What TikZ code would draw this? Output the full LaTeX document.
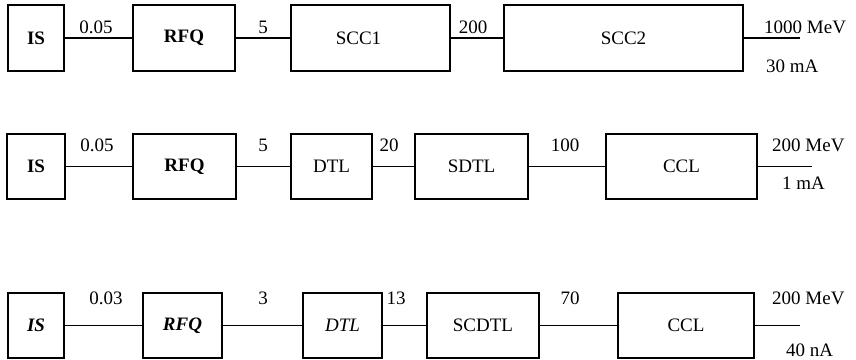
\documentclass[tikz,border=0pt]{standalone}
\usepackage{fontspec}
\setmainfont{Liberation Serif}
\begin{document}
\begin{tikzpicture}[x=1pt,y=-1pt,
  blk/.style={draw,line width=1.7pt,inner sep=0pt,font=\fontsize{19}{22}\selectfont},
  lbl/.style={inner sep=0pt,font=\fontsize{19}{22}\selectfont},
  conn/.style={line width=1.7pt}]
\useasboundingbox (0,0) rectangle (856,359);
% Row 1
\node[blk,minimum width=56,minimum height=66,font=\fontsize{19}{22}\selectfont\bfseries] (is1) at (36,38) {IS};
\node[blk,minimum width=102,minimum height=66,font=\fontsize{19}{22}\selectfont\bfseries] (rfq1) at (184,38) {RFQ};
\node[blk,minimum width=159,minimum height=66] (scc1) at (370.5,38) {\hspace*{-24pt}SCC1};
\node[blk,minimum width=239,minimum height=66] (scc2) at (623.5,38) {SCC2};
\coordinate (e1) at (800,38);
\draw[conn] (is1) -- (rfq1);
\draw[conn] (rfq1) -- (scc1);
\draw[conn] (scc1) -- (scc2);
\draw[conn] (scc2) -- (e1);
\node[lbl] (l11) at (96,27) {0.05};
\node[lbl] (l12) at (263,27) {5};
\node[lbl] (l13) at (473,27) {200};
\node[lbl,anchor=west] (l14) at (764,27) {1000 MeV};
\node[lbl,anchor=west] (l15) at (766,66) {30 mA};
% Row 2
\node[blk,minimum width=58,minimum height=65,font=\fontsize{19}{22}\selectfont\bfseries] (is2) at (36,166.5) {IS};
\node[blk,minimum width=103,minimum height=65,font=\fontsize{19}{22}\selectfont\bfseries] (rfq2) at (184.5,166.5) {RFQ};
\node[blk,minimum width=81,minimum height=65] (dtl2) at (331.5,166.5) {DTL};
\node[blk,minimum width=113,minimum height=65] (sdtl2) at (471.5,166.5) {SDTL};
\node[blk,minimum width=151,minimum height=65] (ccl2) at (681.5,166.5) {CCL};
\coordinate (e2) at (812,166.5);
\draw[conn] (is2) -- (rfq2);
\draw[conn] (rfq2) -- (dtl2);
\draw[conn] (dtl2) -- (sdtl2);
\draw[conn] (sdtl2) -- (ccl2);
\draw[conn] (ccl2) -- (e2);
\node[lbl] (l21) at (97,145) {0.05};
\node[lbl] (l22) at (263,145) {5};
\node[lbl] (l23) at (389,145) {20};
\node[lbl] (l24) at (565,145) {100};
\node[lbl,anchor=west] (l25) at (772,145) {200 MeV};
\node[lbl,anchor=west] (l26) at (782,183) {1 mA};
% Row 3
\node[blk,minimum width=56,minimum height=65,font=\fontsize{19}{22}\selectfont\bfseries\itshape] (is3) at (36,325.5) {IS};
\node[blk,minimum width=79,minimum height=65,font=\fontsize{19}{22}\selectfont\bfseries\itshape] (rfq3) at (182.5,325.5) {RFQ};
\node[blk,minimum width=79,minimum height=65,font=\fontsize{19}{22}\selectfont\itshape] (dtl3) at (342.5,325.5) {DTL};
\node[blk,minimum width=112,minimum height=65] (scdtl3) at (483,325.5) {SCDTL};
\node[blk,minimum width=136,minimum height=65] (ccl3) at (686,325.5) {CCL};
\coordinate (e3) at (800,325.5);
\draw[conn] (is3) -- (rfq3);
\draw[conn] (rfq3) -- (dtl3);
\draw[conn] (dtl3) -- (scdtl3);
\draw[conn] (scdtl3) -- (ccl3);
\draw[conn] (ccl3) -- (e3);
\node[lbl] (l31) at (106,298) {0.03};
\node[lbl] (l32) at (263,298) {3};
\node[lbl] (l33) at (396,298) {13};
\node[lbl] (l34) at (570,298) {70};
\node[lbl,anchor=west] (l35) at (772,298) {200 MeV};
\node[lbl,anchor=west] (l36) at (786,350) {40 nA};
\end{tikzpicture}
\end{document}
